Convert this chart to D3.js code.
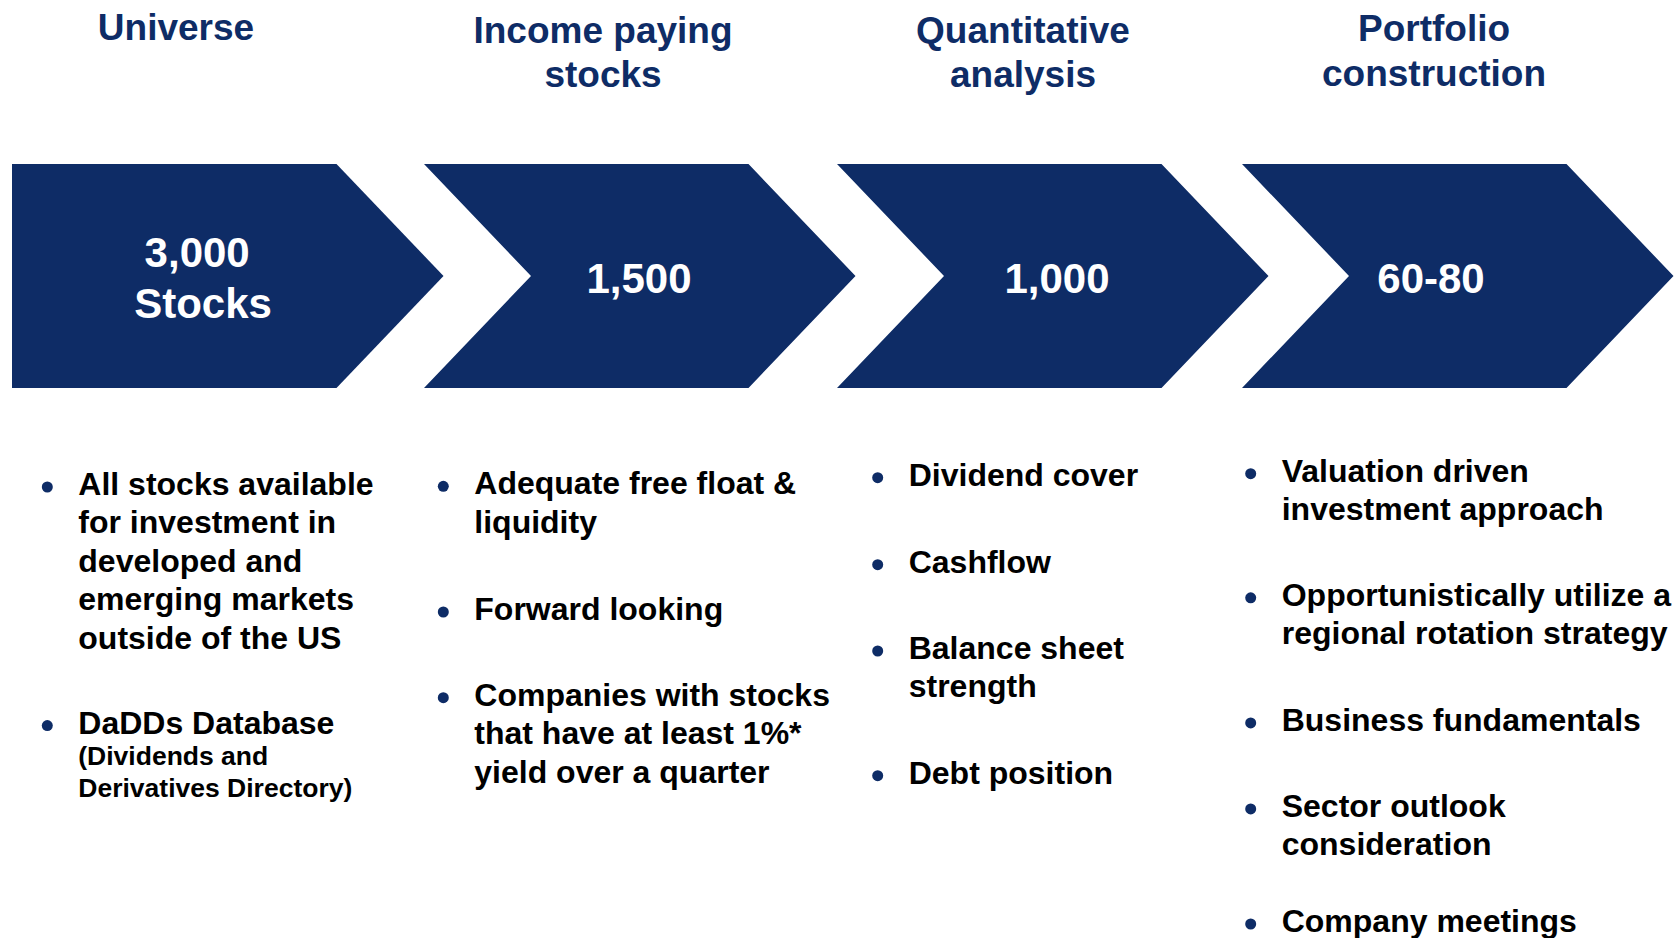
<!DOCTYPE html>
<html>
<head>
<meta charset="utf-8">
<script src="https://cdn.jsdelivr.net/npm/d3@7"></script>
<style>
  html, body { margin: 0; padding: 0; background: #ffffff; }
  svg { display: block; }
  text { font-family: "Liberation Sans", Arial, sans-serif; font-weight: bold; }
</style>
</head>
<body>
<div id="chart"></div>
<script>
// ---------------- DATA ----------------
const stages = ["Universe", "Income paying stocks", "Quantitative analysis", "Portfolio construction"];
const stageTitles = [["Universe"], ["Income paying", "stocks"], ["Quantitative", "analysis"], ["Portfolio", "construction"]];
const stageCounts = [["3,000 ", "Stocks"], ["1,500"], ["1,000"], ["60-80"]];

const universeBullets = [
  { lines: ["All stocks available", "for investment in", "developed and", "emerging markets", "outside of the US"] },
  { lines: ["DaDDs Database"], sub: ["(Dividends and", "Derivatives Directory)"] }
];
const incomeBullets = [
  { lines: ["Adequate free float &", "liquidity"] },
  { lines: ["Forward looking"] },
  { lines: ["Companies with stocks", "that have at least 1%*", "yield over a quarter"] }
];
const quantBullets = [
  { lines: ["Dividend cover"] },
  { lines: ["Cashflow"] },
  { lines: ["Balance sheet", "strength"] },
  { lines: ["Debt position"] }
];
const portfolioBullets = [
  { lines: ["Valuation driven", "investment approach"] },
  { lines: ["Opportunistically utilize a", "regional rotation strategy"] },
  { lines: ["Business fundamentals"] },
  { lines: ["Sector outlook", "consideration"] },
  { lines: ["Company meetings"] }
];
const bulletColumns = [universeBullets, incomeBullets, quantBullets, portfolioBullets];

// ---------------- LAYOUT ----------------
const W = 1675, H = 938;
const navy = "#0e2c66";
const chevTop = 164, chevBottom = 388;
const chevWidth = 324.5, chevDepth = 107;

const xStage = d3.scaleOrdinal().domain(stages).range([12, 424, 837, 1242]);
const xTitle = d3.scaleOrdinal().domain(stages).range([176, 603, 1023, 1434]);
const yTitle = d3.scaleOrdinal().domain(stages).range([39.5, 42.5, 42.5, 41]);
const xLabel = d3.scaleOrdinal().domain(stages).range([203, 639, 1057, 1431]);
const xDot = d3.scaleOrdinal().domain(stages).range([47.3, 443.3, 877.7, 1250.7]);
const yFirst = d3.scaleOrdinal().domain(stages).range([495, 494.3, 485.7, 481.7]);
const gaps = [[85], [87.3, 85.7], [87, 86.3, 86.3], [85.7, 86.7, 86, 76.7]];

const titleSize = 37, titleLH = 44.5;
const labelSize = 42, labelLH = 51;
const bodySize = 32, bodyLH = 38.4;
const subSize = 26.5, subLH = 31.8;
const yMid = (chevTop + chevBottom) / 2;
const yLabel = d3.scaleLinear().domain([0, 1]).range([yMid + 16.5, yMid + 16.5 + labelLH]);

const svg = d3.select("#chart").append("svg").attr("width", W).attr("height", H);

// Chevrons
const chev = svg.append("g").selectAll("path").data(stages).join("path")
  .attr("fill", navy)
  .attr("d", (s, i) => {
    const L = xStage(s), R = L + chevWidth;
    const p = d3.path();
    p.moveTo(L, chevTop);
    p.lineTo(R, chevTop);
    p.lineTo(R + chevDepth, yMid);
    p.lineTo(R, chevBottom);
    p.lineTo(L, chevBottom);
    if (i > 0) p.lineTo(L + chevDepth, yMid);
    p.closePath();
    return p.toString();
  });

// Titles
stages.forEach((s, i) => {
  const t = svg.append("text")
    .attr("text-anchor", "middle")
    .attr("fill", navy)
    .attr("font-size", titleSize);
  stageTitles[i].forEach((line, k) => {
    t.append("tspan").attr("x", xTitle(s)).attr("y", yTitle(s) + k * titleLH).text(line);
  });
});

// Counts inside chevrons
stages.forEach((s, i) => {
  const lines = stageCounts[i];
  const off = (lines.length - 1) / 2;
  const t = svg.append("text")
    .attr("text-anchor", "middle")
    .attr("fill", "#ffffff")
    .attr("font-size", labelSize)
    .style("white-space", "pre");
  lines.forEach((line, k) => {
    t.append("tspan").attr("x", xLabel(s)).attr("y", yLabel(k - off)).text(line);
  });
});

// Bullets
stages.forEach((s, ci) => {
  const items = bulletColumns[ci];
  const g = svg.append("g");
  let y = yFirst(s);
  items.forEach((item, ii) => {
    if (ii > 0) y += gaps[ci][ii - 1];
    g.append("circle").attr("cx", xDot(s)).attr("cy", y - 8).attr("r", 5.5).attr("fill", navy);
    const t = g.append("text").attr("fill", "#000000").attr("font-size", bodySize);
    item.lines.forEach((line, k) => {
      if (k > 0) y += bodyLH;
      t.append("tspan").attr("x", xDot(s) + 31).attr("y", y).text(line);
    });
    if (item.sub) {
      item.sub.forEach(line => {
        y += subLH;
        g.append("text").attr("fill", "#000000").attr("font-size", subSize)
          .attr("x", xDot(s) + 31).attr("y", y).text(line);
      });
    }
  });
});
</script>
</body>
</html>
